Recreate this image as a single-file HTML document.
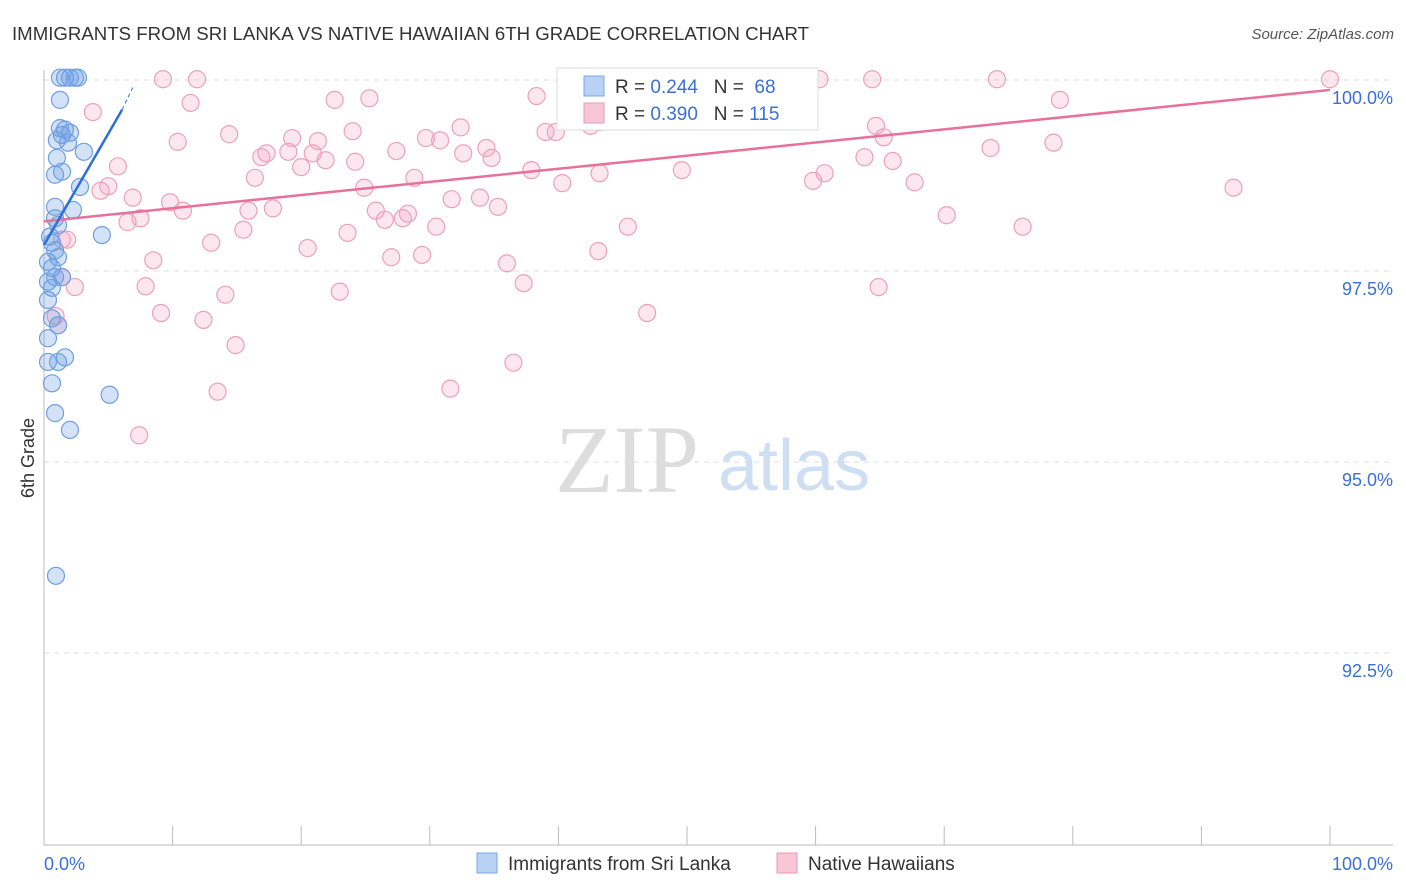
<!DOCTYPE html>
<html><head><meta charset="utf-8"><style>
body{margin:0;background:#fff;font-family:"Liberation Sans",sans-serif}
#c{position:relative;width:1406px;height:892px;overflow:hidden}
</style></head><body>
<div id="c">
<svg id="s" width="1406" height="892" xmlns="http://www.w3.org/2000/svg">
<text x="12" y="40" font-size="18" fill="#333" textLength="797" lengthAdjust="spacingAndGlyphs">IMMIGRANTS FROM SRI LANKA VS NATIVE HAWAIIAN 6TH GRADE CORRELATION CHART</text>
<text x="1394" y="39" font-size="15" fill="#555" text-anchor="end" font-style="italic">Source: ZipAtlas.com</text>
<text x="555" y="492" font-size="96" fill="#ddd" font-family="Liberation Serif">ZIP</text>
<text x="718" y="490" font-size="72" fill="#cfdff3">atlas</text>
<text transform="translate(34,458) rotate(-90)" font-size="18" fill="#333" text-anchor="middle">6th Grade</text>
<g id="grid"></g><g id="pts"></g><g id="lines"></g>
<g>
<rect x="557" y="68" width="261" height="62" fill="#fff" stroke="#ddd"/>
<rect x="584" y="76" width="20" height="20" fill="#b9d1f5" stroke="#7aa5e5"/>
<rect x="584" y="103" width="20" height="20" fill="#f9c6d6" stroke="#ec9ab5"/>
<text x="615" y="93" font-size="19" fill="#333" xml:space="preserve">R = <tspan fill="#3a6fd8">0.244</tspan>   N =  <tspan fill="#3a6fd8">68</tspan></text>
<text x="615" y="120" font-size="19" fill="#333" xml:space="preserve">R = <tspan fill="#3a6fd8">0.390</tspan>   N = <tspan fill="#3a6fd8">115</tspan></text>
</g>
<g>
<rect x="477" y="853" width="20" height="20" fill="#b9d1f5" stroke="#7aa5e5"/>
<text x="508" y="870" font-size="19" fill="#333">Immigrants from Sri Lanka</text>
<rect x="777" y="853" width="20" height="20" fill="#f9c6d6" stroke="#ec9ab5"/>
<text x="808" y="870" font-size="19" fill="#333">Native Hawaiians</text>
</g>
</svg></div>
<script>
const yTicks=[100,97.5,95,92.5];
const yTickLabels=["100.0%","97.5%","95.0%","92.5%"];
const xTicks=[0,10,20,30,40,50,60,70,80,90,100];
const blueX=[1.24,1.63,2.02,2.41,2.64,1.24,1.24,1.4,1.0,1.63,1.87,2.02,3.1,1.0,0.86,1.4,2.8,2.25,0.86,0.86,1.09,4.5,0.47,0.62,0.86,1.09,0.31,0.62,0.86,1.4,0.31,0.62,0.31,0.62,1.09,0.31,1.63,0.31,1.09,0.62,0.86,2.02,5.1,0.93];
const blueY=[100.03,100.03,100.03,100.03,100.03,99.74,99.37,99.28,99.21,99.35,99.18,99.31,99.06,98.98,98.76,98.80,98.60,98.30,98.34,98.19,98.10,97.97,97.95,97.87,97.77,97.68,97.62,97.54,97.42,97.42,97.36,97.28,97.12,96.88,96.79,96.62,96.37,96.31,96.31,96.03,95.64,95.42,95.88,93.51];
const pinkX=[9.25,11.9,41.5,45.8,51.9,59.3,60.3,64.4,74.1,100,3.8,11.4,22.6,25.3,38.3,79.0,43.9,10.4,14.4,19.3,21.3,24.0,29.7,30.8,32.4,34.4,39.0,39.8,42.5,43.2,64.7,65.3,16.9,17.3,19.0,20.9,21.9,24.2,27.4,32.6,34.8,63.8,66.0,73.6,78.5,5.75,16.4,20.0,28.8,37.9,40.3,43.2,49.6,59.8,60.7,67.7,92.5,5.0,4.4,6.9,9.8,10.8,15.9,17.8,24.9,25.8,26.5,27.9,28.3,31.7,33.9,35.3,70.2,7.5,6.5,15.5,13.0,20.5,23.6,27.0,29.4,30.5,36.0,43.1,45.4,76.1,1.4,1.8,8.5,7.9,14.1,23.0,37.3,64.9,2.4,1.4,9.1,12.4,14.9,46.9,0.9,1.1,13.5,31.6,36.5,7.4];
const pinkY=[100.01,100.01,100.01,100.01,100.01,100.01,100.01,100.01,100.01,100.01,99.58,99.70,99.74,99.76,99.79,99.74,99.63,99.19,99.29,99.24,99.20,99.33,99.24,99.21,99.38,99.11,99.32,99.32,99.40,99.45,99.40,99.25,98.99,99.04,99.06,99.04,98.95,98.93,99.07,99.04,98.98,98.99,98.94,99.11,99.18,98.87,98.72,98.86,98.72,98.82,98.65,98.78,98.82,98.68,98.78,98.66,98.59,98.61,98.55,98.46,98.40,98.29,98.29,98.32,98.59,98.29,98.17,98.19,98.25,98.44,98.46,98.34,98.23,98.19,98.14,98.04,97.87,97.80,98.00,97.68,97.71,98.08,97.60,97.76,98.08,98.08,97.91,97.91,97.64,97.30,97.19,97.23,97.34,97.29,97.29,97.42,96.95,96.86,96.53,96.95,96.91,96.79,95.92,95.96,96.30,95.35];
const blueLine=[[0,97.84],[6.07,99.61]];
const blueDash=[[6.07,99.61],[6.9,99.90]];
const pinkLine=[[0,98.15],[100,99.87]];
const NS='http://www.w3.org/2000/svg';
const X=v=>44+v*12.86, Y=v=>80+(100-v)*76.4;
function mk(t,a,p){const e=document.createElementNS(NS,t);for(const k in a)e.setAttribute(k,a[k]);p.appendChild(e);return e;}
const g=document.getElementById('grid');
yTicks.forEach((v,i)=>{
 const l=mk('line',{x1:44,x2:1393,y1:Y(v),y2:Y(v),stroke:'#ddd','stroke-dasharray':'5,5'},g);
 
 
 const t=mk('text',{x:1393,y:Y(v)+24,'font-size':18,fill:'#3a6fd8','text-anchor':'end'},g);
 t.textContent=yTickLabels[i];
 
 
});
const ax=mk('line',{x1:44,x2:44,y1:70,y2:845,stroke:'#bbb'},g);


const bx=mk('line',{x1:44,x2:1393,y1:845,y2:845,stroke:'#bbb'},g);


xTicks.forEach(v=>{
 const l=mk('line',{x1:X(v),x2:X(v),y1:826,y2:845,stroke:'#bbb'},g);
 
 
});
[[0,'0.0%','start',44],[100,'100.0%','end',1393]].forEach(d=>{
 const t=mk('text',{x:d[3],y:870,'font-size':18,fill:'#3a6fd8','text-anchor':d[2]},g);
 t.textContent=d[1];
 
 
});
const P=document.getElementById('pts');
pinkX.forEach((v,i)=>{
 const c=mk('circle',{cx:X(v),cy:Y(pinkY[i]),r:8.5,fill:'rgba(244,160,190,0.25)',stroke:'#eca0ba','stroke-width':1.2},P);
 
 
});
blueX.forEach((v,i)=>{
 const c=mk('circle',{cx:X(v),cy:Y(blueY[i]),r:8.5,fill:'rgba(110,160,230,0.3)',stroke:'#6f9fe2','stroke-width':1.2},P);
 
 
});
const L=document.getElementById('lines');
const pl=mk('line',{x1:X(pinkLine[0][0]),y1:Y(pinkLine[0][1]),x2:X(pinkLine[1][0]),y2:Y(pinkLine[1][1]),stroke:'#e8709a','stroke-width':2.5},L);


const bl=mk('line',{x1:X(blueLine[0][0]),y1:Y(blueLine[0][1]),x2:X(blueLine[1][0]),y2:Y(blueLine[1][1]),stroke:'#2d6fd8','stroke-width':2.5},L);


const bd=mk('line',{x1:X(blueDash[0][0]),y1:Y(blueDash[0][1]),x2:X(blueDash[1][0]),y2:Y(blueDash[1][1]),stroke:'#2d6fd8','stroke-width':1,'stroke-dasharray':'4,3'},L);


</script>
</body></html>
